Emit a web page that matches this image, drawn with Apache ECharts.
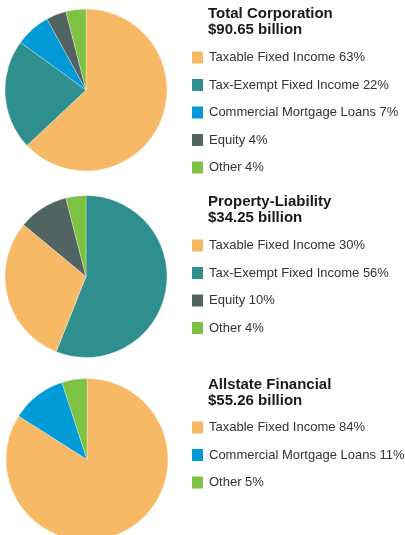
<!DOCTYPE html>
<html>
<head>
<meta charset="utf-8">
<script src="https://cdn.jsdelivr.net/npm/echarts@6/dist/echarts.min.js"></script>
<style>
  html, body { margin: 0; padding: 0; background: #fff; }
  #chart { width: 405px; height: 535px; }
</style>
</head>
<body>
<div id="chart"></div>
<script>
// slice order is clockwise from 12 o'clock; legend order is the printed one
const totalNames = ['Taxable Fixed Income', 'Tax-Exempt Fixed Income', 'Commercial Mortgage Loans', 'Equity', 'Other'];
const totalValues = [63, 22, 7, 4, 4];
const totalLegend = ['Taxable Fixed Income', 'Tax-Exempt Fixed Income', 'Commercial Mortgage Loans', 'Equity', 'Other'];

const plNames = ['Tax-Exempt Fixed Income', 'Taxable Fixed Income', 'Equity', 'Other'];
const plValues = [56, 30, 10, 4];
const plLegend = ['Taxable Fixed Income', 'Tax-Exempt Fixed Income', 'Equity', 'Other'];

const afNames = ['Taxable Fixed Income', 'Commercial Mortgage Loans', 'Other'];
const afValues = [84, 11, 5];
const afLegend = ['Taxable Fixed Income', 'Commercial Mortgage Loans', 'Other'];

const titles = ['Total Corporation\n$90.65 billion', 'Property-Liability\n$34.25 billion', 'Allstate Financial\n$55.26 billion'];

const colors = {
  'Taxable Fixed Income': '#F7B965',
  'Tax-Exempt Fixed Income': '#2E8F8E',
  'Commercial Mortgage Loans': '#009AD6',
  'Equity': '#526461',
  'Other': '#7DC242'
};

const font = 'Liberation Sans, Arial, sans-serif';

const toData = (names, values) => names.map((n, i) => {
  return { name: n, value: values[i], itemStyle: { color: colors[n] } };
});

const pctLookup = (names, values) => {
  let m = {};
  names.forEach((n, i) => { m[n] = values[i]; });
  return m;
};

const makePie = (names, values, center) => ({
  type: 'pie',
  radius: 81,
  center: center,
  startAngle: 90,
  clockwise: true,
  silent: true,
  label: { show: false },
  labelLine: { show: false },
  itemStyle: { borderColor: 'rgba(255,255,255,0.6)', borderWidth: 0.5 },
  data: toData(names, values)
});

const makeLegend = (order, lookup, top) => ({
  orient: 'vertical',
  left: 192,
  top: top,
  padding: 0,
  itemWidth: 11,
  itemHeight: 12,
  itemGap: 14.5,
  icon: 'rect',
  selectedMode: false,
  itemStyle: { borderWidth: 0 },
  data: order,
  textStyle: { fontFamily: font, fontSize: 13, lineHeight: 12, color: '#333333', padding: [0, 0, 0, 1] },
  formatter: name => name + ' ' + lookup[name] + '%'
});

const makeTitle = (text, top) => ({
  text: text,
  left: 208,
  top: top,
  padding: 0,
  textStyle: { fontFamily: font, fontSize: 15, fontWeight: 'bold', lineHeight: 16, color: '#1a1a1a' }
});

let myChart = echarts.init(document.getElementById('chart'), null, { renderer: 'canvas' });

let option = {
  animation: false,
  title: [
    makeTitle(titles[0], 6),
    makeTitle(titles[1], 194),
    makeTitle(titles[2], 377)
  ],
  legend: [
    makeLegend(totalLegend, pctLookup(totalNames, totalValues), 51),
    makeLegend(plLegend, pctLookup(plNames, plValues), 239),
    makeLegend(afLegend, pctLookup(afNames, afValues), 421)
  ],
  series: [
    makePie(totalNames, totalValues, [86, 90]),
    makePie(plNames, plValues, [86, 276.5]),
    makePie(afNames, afValues, [87, 459.5])
  ]
};

option && myChart.setOption(option);
</script>
</body>
</html>
